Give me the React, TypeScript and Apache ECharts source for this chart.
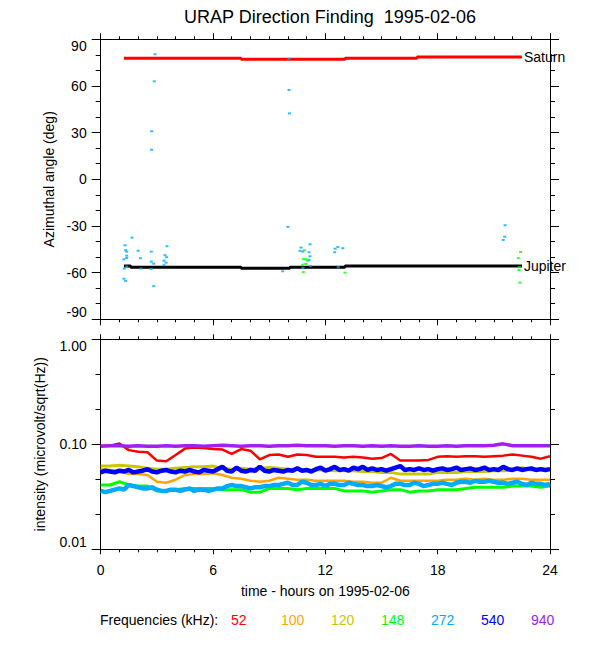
import React, { useEffect, useRef } from "react";
import * as echarts from "echarts";

const TITLE = "URAP Direction Finding  1995-02-06";
const X_NAME = "time - hours on 1995-02-06";
const Y_TOP_NAME = "Azimuthal angle (deg)";
const Y_BOT_NAME = "intensity (microvolt/sqrt(Hz))";
const LEGEND_TITLE = "Frequencies (kHz):";

const freqLabels = ["52", "100", "120", "148", "272", "540", "940"];
const freqColors = ["#ff0000", "#ffa500", "#c8c800", "#00ff00", "#00aaff", "#0000ff", "#a020f0"];
const freqWidths = [2.5, 2.5, 3, 3, 4.5, 4.5, 3.5];

// Top panel: source directions (hours, degrees) as step lines
const saturnTrack: [number, number][] = [
  [1.24, 77.8], [7.5, 77.1], [13.05, 77.8], [16.9, 78.6], [22.5, 78.6],
];
const jupiterTrack: [number, number][] = [
  [1.24, -55.7], [1.6, -56.6], [7.5, -57.2], [10.1, -56.6], [13.05, -55.7], [22.5, -55.7],
];

// Top panel scattered direction fixes
const dir272: [number, number][] = [
  [2.9, 80.4], [2.86, 63], [2.72, 30.9], [2.72, 19], [1.67, -37.5], [1.3, -42.4], [1.39, -46.5],
  [1.33, -45.6], [1.39, -49.1], [1.39, -50.6], [1.24, -51.4], [2.0, -45.9], [2.12, -50.7],
  [2.7, -46.5], [2.7, -52.9], [2.83, -54.2], [2.69, -57.6], [2.15, -57.4], [1.26, -57.4],
  [1.39, -56.1], [1.24, -63.9], [1.33, -65.3], [2.83, -68.7], [3.54, -43], [3.43, -48.8],
  [3.52, -50.1], [3.38, -52.3], [3.49, -53.6], [3.38, -55.2], [9.72, -59.1], [10.06, 77.5],
  [10.06, 57.4], [10.08, 42.4], [10.0, -30.6], [10.7, -43.9], [10.65, -46], [10.79, -46.5],
  [11.18, -41.8], [11.13, -46.9], [11.18, -49.5], [11.13, -51.8], [11.2, -55.7], [10.8, -56.8],
  [12.52, -44.6], [12.67, -43.5], [12.93, -44.3], [12.5, -46.9], [12.69, -56.5], [21.6, -29.5],
  [21.58, -36.9], [21.5, -39],
];
const dir148: [number, number][] = [
  [10.88, -45.6], [10.82, -51.4], [10.95, -51.4], [11.04, -52.3], [10.79, -54.9], [10.95, -54.4],
  [10.82, -59.7], [13.05, -60], [22.43, -46.7], [22.31, -50.7], [22.36, -56.5], [22.34, -58.3],
  [22.4, -66.4],
];

// Bottom panel: intensity time series (half-hour samples)
const hours = [
  0, 0.5, 1, 1.5, 2, 2.5, 3, 3.5, 4, 4.5, 5, 5.5, 6, 6.5, 7, 7.5, 8, 8.5, 9, 9.5, 10, 10.5, 11, 11.5,
  12, 12.5, 13, 13.5, 14, 14.5, 15, 15.5, 16, 16.5, 17, 17.5, 18, 18.5, 19, 19.5, 20, 20.5, 21, 21.5,
  22, 22.5, 23, 23.5, 24,
];
// quarter-hour samples for the two noisiest channels
const hoursFine = [
  0, 0.25, 0.5, 0.75, 1, 1.25, 1.5, 1.75, 2, 2.25, 2.5, 2.75, 3, 3.25, 3.5, 3.75,
  4, 4.25, 4.5, 4.75, 5, 5.25, 5.5, 5.75, 6, 6.25, 6.5, 6.75, 7, 7.25, 7.5, 7.75,
  8, 8.25, 8.5, 8.75, 9, 9.25, 9.5, 9.75, 10, 10.25, 10.5, 10.75, 11, 11.25, 11.5, 11.75,
  12, 12.25, 12.5, 12.75, 13, 13.25, 13.5, 13.75, 14, 14.25, 14.5, 14.75, 15, 15.25, 15.5, 15.75,
  16, 16.25, 16.5, 16.75, 17, 17.25, 17.5, 17.75, 18, 18.25, 18.5, 18.75, 19, 19.25, 19.5, 19.75,
  20, 20.25, 20.5, 20.75, 21, 21.25, 21.5, 21.75, 22, 22.25, 22.5, 22.75, 23, 23.25, 23.5, 23.75,
  24,
];
const int52 = [
  0.097, 0.097, 0.102, 0.088, 0.085, 0.084, 0.070, 0.069, 0.079, 0.091, 0.093, 0.092, 0.090, 0.089,
  0.081, 0.090, 0.087, 0.072, 0.079, 0.080, 0.076, 0.080, 0.079, 0.076, 0.076, 0.076, 0.075, 0.076,
  0.075, 0.073, 0.074, 0.081, 0.070, 0.070, 0.070, 0.071, 0.076, 0.077, 0.076, 0.077, 0.077, 0.076,
  0.077, 0.078, 0.080, 0.078, 0.076, 0.073, 0.077,
];
const int100 = [
  0.058, 0.057, 0.056, 0.052, 0.052, 0.051, 0.044, 0.043, 0.046, 0.051, 0.052, 0.052, 0.053, 0.051,
  0.048, 0.047, 0.045, 0.044, 0.045, 0.048, 0.047, 0.046, 0.046, 0.045, 0.045, 0.045, 0.045, 0.044,
  0.044, 0.043, 0.043, 0.048, 0.045, 0.045, 0.045, 0.045, 0.045, 0.046, 0.046, 0.047, 0.046, 0.047,
  0.046, 0.046, 0.047, 0.047, 0.046, 0.046, 0.046,
];
const int120 = [
  0.062, 0.062, 0.063, 0.062, 0.061, 0.059, 0.058, 0.058, 0.059, 0.060, 0.061, 0.061, 0.062, 0.059,
  0.058, 0.059, 0.058, 0.059, 0.060, 0.059, 0.058, 0.058, 0.057, 0.057, 0.057, 0.056, 0.056, 0.056,
  0.055, 0.055, 0.054, 0.054, 0.052, 0.052, 0.052, 0.052, 0.054, 0.054, 0.054, 0.055, 0.055, 0.055,
  0.056, 0.056, 0.057, 0.060, 0.057, 0.057, 0.058,
];
const int148 = [
  0.041, 0.041, 0.044, 0.041, 0.040, 0.040, 0.036, 0.036, 0.037, 0.038, 0.038, 0.038, 0.038, 0.037,
  0.037, 0.037, 0.035, 0.035, 0.038, 0.038, 0.038, 0.037, 0.038, 0.038, 0.038, 0.038, 0.036, 0.036,
  0.036, 0.035, 0.036, 0.037, 0.037, 0.035, 0.036, 0.036, 0.037, 0.037, 0.037, 0.038, 0.039, 0.039,
  0.039, 0.039, 0.040, 0.040, 0.040, 0.039, 0.040,
];
const int272 = [
  0.036, 0.035, 0.036, 0.037, 0.038, 0.037, 0.041, 0.040, 0.039, 0.038, 0.038, 0.039,
  0.037, 0.036, 0.036, 0.037, 0.037, 0.036, 0.037, 0.038, 0.036, 0.037, 0.037, 0.036,
  0.037, 0.038, 0.038, 0.040, 0.041, 0.040, 0.040, 0.039, 0.038, 0.039, 0.039, 0.040,
  0.040, 0.041, 0.041, 0.042, 0.043, 0.041, 0.041, 0.044, 0.043, 0.041, 0.041, 0.042,
  0.040, 0.042, 0.042, 0.041, 0.041, 0.043, 0.042, 0.041, 0.041, 0.040, 0.040, 0.041,
  0.040, 0.039, 0.040, 0.042, 0.042, 0.041, 0.041, 0.043, 0.042, 0.040, 0.041, 0.042,
  0.042, 0.043, 0.042, 0.041, 0.043, 0.044, 0.044, 0.043, 0.045, 0.044, 0.044, 0.045,
  0.044, 0.043, 0.043, 0.042, 0.043, 0.044, 0.042, 0.041, 0.043, 0.042, 0.042, 0.041,
  0.042,
];
const int540 = [
  0.054, 0.056, 0.055, 0.054, 0.056, 0.055, 0.057, 0.054, 0.055, 0.056, 0.058, 0.055,
  0.054, 0.056, 0.057, 0.055, 0.054, 0.056, 0.055, 0.057, 0.055, 0.054, 0.057, 0.056,
  0.055, 0.058, 0.061, 0.056, 0.055, 0.060, 0.056, 0.055, 0.057, 0.056, 0.061, 0.056,
  0.055, 0.057, 0.056, 0.055, 0.057, 0.056, 0.059, 0.056, 0.057, 0.055, 0.058, 0.060,
  0.056, 0.058, 0.061, 0.057, 0.058, 0.056, 0.060, 0.058, 0.061, 0.057, 0.059, 0.057,
  0.058, 0.056, 0.058, 0.060, 0.062, 0.057, 0.058, 0.057, 0.059, 0.057, 0.058, 0.056,
  0.058, 0.059, 0.057, 0.058, 0.060, 0.057, 0.058, 0.059, 0.057, 0.058, 0.060, 0.057,
  0.058, 0.057, 0.061, 0.058, 0.057, 0.059, 0.057, 0.058, 0.059, 0.057, 0.058, 0.057,
  0.058,
];
const int940 = [
  0.096, 0.097, 0.097, 0.096, 0.097, 0.096, 0.096, 0.097, 0.096, 0.097, 0.097, 0.096, 0.097, 0.098,
  0.097, 0.096, 0.097, 0.097, 0.096, 0.097, 0.097, 0.098, 0.097, 0.097, 0.097, 0.096, 0.097, 0.097,
  0.096, 0.097, 0.096, 0.097, 0.096, 0.096, 0.097, 0.096, 0.096, 0.097, 0.096, 0.097, 0.097, 0.097,
  0.098, 0.101, 0.097, 0.097, 0.097, 0.097, 0.097,
];
const intensities = [int52, int100, int120, int148, int272, int540, int940];
const sampleTimes = [hours, hours, hours, hours, hoursFine, hoursFine, hours];

// Intensity axis: decades 0.01 .. 1.00 on a logarithmic scale (units above the 0.01 floor)
const INTENSITY_MIN = 0.01;
const INTENSITY_MAX = 1;
const UNITS_PER_DECADE = 30;
const SUBTICKS_PER_DECADE = 3;
const toLogUnits = (v: number) => UNITS_PER_DECADE * (Math.log10(v) - Math.log10(INTENSITY_MIN));
const fromLogUnits = (u: number) => INTENSITY_MIN * Math.pow(10, u / UNITS_PER_DECADE);

const FONT = "'Liberation Sans', Arial, Helvetica, sans-serif";
const BLACK = "#000000";

function xAxisDef(gridIndex: number, position: string, showLabel: boolean, tickLen: number, minorLen: number, extra: any = {}) {
  return {
    type: "value",
    gridIndex,
    position,
    min: 0,
    max: 24,
    interval: 6,
    axisLine: { show: true, onZero: false, lineStyle: { color: BLACK, width: 1 } },
    axisTick: { show: true, inside: false, length: tickLen, lineStyle: { color: BLACK, width: 1 } },
    minorTick: { show: true, splitNumber: 6, length: minorLen, lineStyle: { color: BLACK, width: 1 } },
    splitLine: { show: false },
    minorSplitLine: { show: false },
    axisLabel: { show: showLabel, color: BLACK, fontSize: 14, fontFamily: FONT, margin: 14 },
    ...extra,
  };
}

function App() {
  const ref = useRef<HTMLDivElement>(null);
  useEffect(() => {
    if (!ref.current) return;
    const chart = echarts.init(ref.current, undefined, { renderer: "svg" });

    const grids = [
      { left: 100.7, top: 39.3, width: 449.3, height: 280, outerBoundsMode: "none", containLabel: false },
      { left: 100.7, top: 339.3, width: 449.3, height: 210, outerBoundsMode: "none", containLabel: false },
    ];

    const yTick = { show: true, inside: false, length: 9, lineStyle: { color: BLACK, width: 1 } };
    const yMinor = { show: true, splitNumber: 3, length: 5, lineStyle: { color: BLACK, width: 1 } };
    const yLine = { show: true, onZero: false, lineStyle: { color: BLACK, width: 1 } };

    const uMin = Math.round(toLogUnits(INTENSITY_MIN));
    const uMax = Math.round(toLogUnits(INTENSITY_MAX));

    // short ticks at every third of a decade, sharing the intensity axis position
    const subTickAxis = (position: string) => ({
      type: "value", gridIndex: 1, position, offset: 0,
      min: uMin, max: uMax, interval: UNITS_PER_DECADE / SUBTICKS_PER_DECADE,
      axisLine: { show: false, onZero: false },
      axisTick: { show: true, inside: false, length: 5, lineStyle: { color: BLACK, width: 1 } },
      minorTick: { show: false },
      splitLine: { show: false }, minorSplitLine: { show: false },
      axisLabel: { show: false },
    });

    const yAxes: any[] = [
      {
        type: "value", gridIndex: 0, position: "left", min: -90, max: 90, interval: 30,
        axisLine: yLine, axisTick: yTick, minorTick: yMinor,
        splitLine: { show: false }, minorSplitLine: { show: false },
        axisLabel: {
          show: true, color: BLACK, fontSize: 14, fontFamily: FONT, margin: 14,
          verticalAlignMaxLabel: "top", verticalAlignMinLabel: "bottom",
        },
        name: Y_TOP_NAME, nameLocation: "middle", nameGap: 19,
        nameTextStyle: { color: BLACK, fontSize: 14, fontFamily: FONT },
      },
      {
        type: "value", gridIndex: 0, position: "right", min: -90, max: 90, interval: 30,
        axisLine: yLine, axisTick: yTick, minorTick: yMinor,
        splitLine: { show: false }, minorSplitLine: { show: false },
        axisLabel: { show: false },
      },
      {
        type: "value", gridIndex: 1, position: "left", min: uMin, max: uMax, interval: UNITS_PER_DECADE,
        axisLine: yLine, axisTick: yTick,
        minorTick: { show: true, splitNumber: SUBTICKS_PER_DECADE, length: 5, lineStyle: { color: BLACK, width: 1 } },
        splitLine: { show: false }, minorSplitLine: { show: false },
        axisLabel: {
          show: true, color: BLACK, fontSize: 14, fontFamily: FONT, margin: 14,
          formatter: (u: number) => fromLogUnits(u).toFixed(2),
          verticalAlignMaxLabel: "top", verticalAlignMinLabel: "bottom",
        },
        name: Y_BOT_NAME, nameLocation: "middle", nameGap: 54,
        nameTextStyle: { color: BLACK, fontSize: 14, fontFamily: FONT },
      },
      {
        type: "value", gridIndex: 1, position: "right", min: uMin, max: uMax, interval: UNITS_PER_DECADE,
        axisLine: yLine, axisTick: yTick,
        minorTick: { show: true, splitNumber: SUBTICKS_PER_DECADE, length: 5, lineStyle: { color: BLACK, width: 1 } },
        splitLine: { show: false }, minorSplitLine: { show: false },
        axisLabel: { show: false },
      },
      subTickAxis("left"),
      subTickAxis("right"),
    ];

    const xAxes = [
      xAxisDef(0, "bottom", false, 6, 3),
      xAxisDef(0, "top", false, 6, 3),
      xAxisDef(1, "bottom", true, 5, 3, {
        name: X_NAME, nameLocation: "middle", nameGap: 35,
        nameTextStyle: { color: BLACK, fontSize: 14, fontFamily: FONT },
      }),
      xAxisDef(1, "top", false, 5, 3),
    ];

    const trackLabel = (text: string) => ({
      show: true, formatter: text, color: BLACK, fontSize: 14, fontFamily: FONT, distance: 2,
    });

    const series: any[] = [
      {
        type: "line", name: "Saturn", xAxisIndex: 0, yAxisIndex: 0, step: "end", data: saturnTrack,
        showSymbol: false, symbol: "none", lineStyle: { color: "#ff0000", width: 3 },
        endLabel: trackLabel("Saturn"), z: 3,
      },
      {
        type: "line", name: "Jupiter", xAxisIndex: 0, yAxisIndex: 0, step: "end", data: jupiterTrack,
        showSymbol: false, symbol: "none", lineStyle: { color: "#000000", width: 3 },
        endLabel: trackLabel("Jupiter"), z: 3,
      },
      {
        type: "scatter", name: "272 dir", xAxisIndex: 0, yAxisIndex: 0, data: dir272,
        symbol: "rect", symbolSize: [3, 2], itemStyle: { color: freqColors[4] }, z: 4,
      },
      {
        type: "scatter", name: "148 dir", xAxisIndex: 0, yAxisIndex: 0, data: dir148,
        symbol: "rect", symbolSize: [3, 2], itemStyle: { color: freqColors[3] }, z: 4,
      },
    ];

    intensities.forEach((vals, i) => {
      const times = sampleTimes[i];
      series.push({
        type: "line",
        name: freqLabels[i] + " kHz",
        xAxisIndex: 2,
        yAxisIndex: 2,
        data: times.map((h, k) => [h, toLogUnits(vals[k])]),
        showSymbol: false,
        symbol: "none",
        lineStyle: { color: freqColors[i], width: freqWidths[i] },
        z: 2 + i * 0.01,
      });
    });

    const legendItems: any[] = [
      {
        type: "text", x: 100, y: 620,
        style: {
          text: LEGEND_TITLE, fill: BLACK, fontSize: 14, fontFamily: FONT,
          verticalAlign: "middle", textVerticalAlign: "middle",
        },
      },
      ...freqLabels.map((f, i) => ({
        type: "text", x: 231 + 50 * i, y: 620,
        style: {
          text: f, fill: freqColors[i], fontSize: 14, fontFamily: FONT,
          verticalAlign: "middle", textVerticalAlign: "middle",
        },
      })),
    ];

    chart.setOption({
      animation: false,
      backgroundColor: "#ffffff",
      textStyle: { fontFamily: FONT, color: BLACK },
      title: {
        text: TITLE, left: 325, top: 3, textAlign: "center",
        textStyle: { fontSize: 18, fontWeight: "normal", color: BLACK, fontFamily: FONT },
      },
      grid: grids,
      xAxis: xAxes,
      yAxis: yAxes,
      series,
      graphic: legendItems,
    });

    return () => chart.dispose();
  }, []);

  return <div ref={ref} style={{ position: "absolute", left: 0, top: 0, width: 600, height: 650 }} />;
}

export default App;
